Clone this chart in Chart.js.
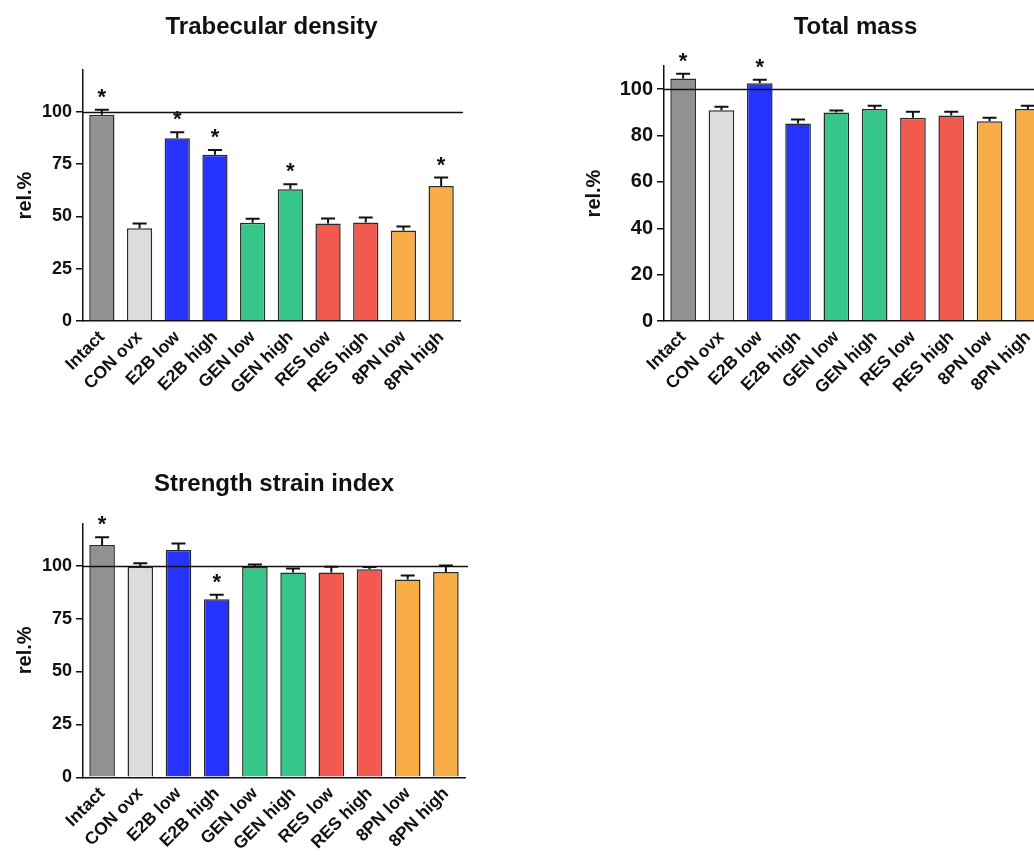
<!DOCTYPE html>
<html lang="en">
<head>
  <meta charset="UTF-8">
  <title>Bone parameters</title>
  <script src="https://cdn.jsdelivr.net/npm/chart.js"></script>
  <style>
    html, body { margin: 0; padding: 0; overflow: hidden; background: #fff; }
    body { width: 1034px; height: 855px; position: relative; }
    canvas { position: absolute; }
  </style>
</head>
<body>
  <canvas id="trab" width="540" height="420" style="left:0;top:0"></canvas>
  <canvas id="mass" width="480" height="420" style="left:580px;top:0"></canvas>
  <canvas id="ssi" width="540" height="415" style="left:0;top:440px"></canvas>

  <script>
    const categories = ['Intact', 'CON ovx', 'E2B low', 'E2B high', 'GEN low', 'GEN high', 'RES low', 'RES high', '8PN low', '8PN high'];
    const barColors = ['#919191', '#dcdcdc', '#2632fd', '#2632fd', '#37c68a', '#37c68a', '#f25a50', '#f25a50', '#f8ad46', '#f8ad46'];

    // Trabecular density (rel.%)
    const trabDensity = [98.6, 44.4, 87.4, 79.5, 47.0, 63.0, 46.6, 47.1, 43.3, 64.6];
    const trabDensityErr = [2.4, 2.2, 2.8, 2.2, 1.9, 2.4, 2.4, 2.4, 1.9, 4.0];
    const trabDensitySig = ['*', '', '*', '*', '', '*', '', '', '', '*'];
    const trabTicks = [0, 25, 50, 75, 100];

    // Total mass (rel.%)
    const totalMass = [104.6, 90.9, 102.6, 85.2, 89.9, 91.5, 87.7, 88.6, 86.2, 91.5];
    const totalMassErr = [2.1, 1.5, 1.5, 1.7, 0.9, 1.3, 2.6, 1.7, 1.5, 1.4];
    const totalMassSig = ['*', '', '*', '', '', '', '', '', '', ''];
    const massTicks = [0, 20, 40, 60, 80, 100];

    // Strength strain index (rel.%)
    const strainIndex = [109.8, 99.5, 107.4, 84.1, 99.4, 96.8, 96.7, 98.3, 93.5, 97.0];
    const strainIndexErr = [3.6, 1.6, 3.1, 2.1, 1.1, 1.9, 2.8, 1.1, 1.8, 3.1];
    const strainIndexSig = ['*', '', '', '*', '', '', '', '', '', ''];
    const ssiTicks = [0, 25, 50, 75, 100];

    const FONT = "'Liberation Sans', Arial, sans-serif";

    // reference line at 100 %, error bars (upper only) and significance stars
    const overlayPlugin = {
      id: 'overlay',
      afterDatasetsDraw(chart) {
        const ctx = chart.ctx;
        const y = chart.scales.y;
        const area = chart.chartArea;
        const extra = chart.options.plugins.overlay;

        ctx.save();
        ctx.strokeStyle = '#111';
        ctx.lineWidth = 1.5;
        const y100 = Math.round(y.getPixelForValue(100)) + 0.5;
        ctx.beginPath();
        ctx.moveTo(area.left, y100);
        ctx.lineTo(area.right + 3, y100);
        ctx.stroke();

        const bars = chart.getDatasetMeta(0).data;
        const values = chart.data.datasets[0].data;
        ctx.lineWidth = 2;
        bars.forEach((bar, i) => {
          const top = y.getPixelForValue(values[i] + extra.errors[i]);
          ctx.beginPath();
          ctx.moveTo(bar.x, bar.y);
          ctx.lineTo(bar.x, top);
          ctx.moveTo(bar.x - 7, top);
          ctx.lineTo(bar.x + 7, top);
          ctx.stroke();
          if (extra.stars[i]) {
            ctx.fillStyle = '#111';
            ctx.font = 'bold 22px ' + FONT;
            ctx.textAlign = 'center';
            ctx.textBaseline = 'alphabetic';
            ctx.fillText(extra.stars[i], bar.x, top - 6);
          }
        });
        ctx.restore();
      }
    };

    function makePanel(id, opts) {
      return new Chart(document.getElementById(id), {
        type: 'bar',
        data: {
          labels: categories,
          datasets: [{
            data: opts.values,
            backgroundColor: barColors,
            borderColor: '#2a2a2a',
            borderWidth: 1.5,
            barPercentage: 0.67,
            categoryPercentage: 1
          }]
        },
        plugins: [overlayPlugin],
        options: {
          responsive: false,
          animation: false,
          layout: { padding: { left: 0, right: opts.padRight, top: 0, bottom: 0 } },
          plugins: {
            legend: { display: false },
            tooltip: { enabled: false },
            title: {
              display: true,
              text: opts.title,
              fullSize: false,
              color: '#111',
              font: { family: FONT, size: 24, weight: 'bold', lineHeight: 1.2 },
              padding: { top: opts.titleTop, bottom: opts.titleBottom }
            },
            overlay: { errors: opts.errors, stars: opts.stars }
          },
          scales: {
            x: {
              grid: { display: false, drawTicks: false },
              border: { display: true, color: '#111', width: 1.5 },
              ticks: {
                color: '#111',
                font: { family: FONT, size: 17.5, weight: 'bold' },
                minRotation: 45,
                maxRotation: 45,
                padding: 6,
                autoSkip: false
              },
              afterFit(scale) { scale.height = opts.xHeight; }
            },
            y: {
              min: 0,
              max: opts.max,
              grid: { display: true, drawOnChartArea: false, drawTicks: true, tickLength: 7, color: '#111', lineWidth: 1.5 },
              border: { display: true, color: '#111', width: 1.5 },
              ticks: {
                color: '#111',
                font: { family: FONT, size: opts.tickSize, weight: 'bold' },
                padding: 4
              },
              afterBuildTicks(scale) {
                scale.ticks = opts.ticks.map(v => ({ value: v }));
              },
              title: {
                display: true,
                text: 'rel.%',
                color: '#111',
                font: { family: FONT, size: 20, weight: 'bold', lineHeight: 1.2 },
                padding: { top: opts.labelPad, bottom: 0 }
              },
              afterFit(scale) { scale.width = opts.yWidth; }
            }
          }
        }
      });
    }

    makePanel('trab', {
      title: 'Trabecular density', values: trabDensity, errors: trabDensityErr, stars: trabDensitySig,
      ticks: trabTicks, max: 120, tickSize: 18,
      padRight: 80, yWidth: 83, xHeight: 99, titleTop: 12.5, titleBottom: 28.7, labelPad: 13
    });

    makePanel('mass', {
      title: 'Total mass', values: totalMass, errors: totalMassErr, stars: totalMassSig,
      ticks: massTicks, max: 110, tickSize: 20,
      padRight: 13, yWidth: 84, xHeight: 99, titleTop: 12.5, titleBottom: 24.7, labelPad: 2.5
    });

    makePanel('ssi', {
      title: 'Strength strain index', values: strainIndex, errors: strainIndexErr, stars: strainIndexSig,
      ticks: ssiTicks, max: 120, tickSize: 18,
      padRight: 75, yWidth: 83, xHeight: 77.7, titleTop: 29.9, titleBottom: 24.6, labelPad: 13
    });
  </script>
</body>
</html>
